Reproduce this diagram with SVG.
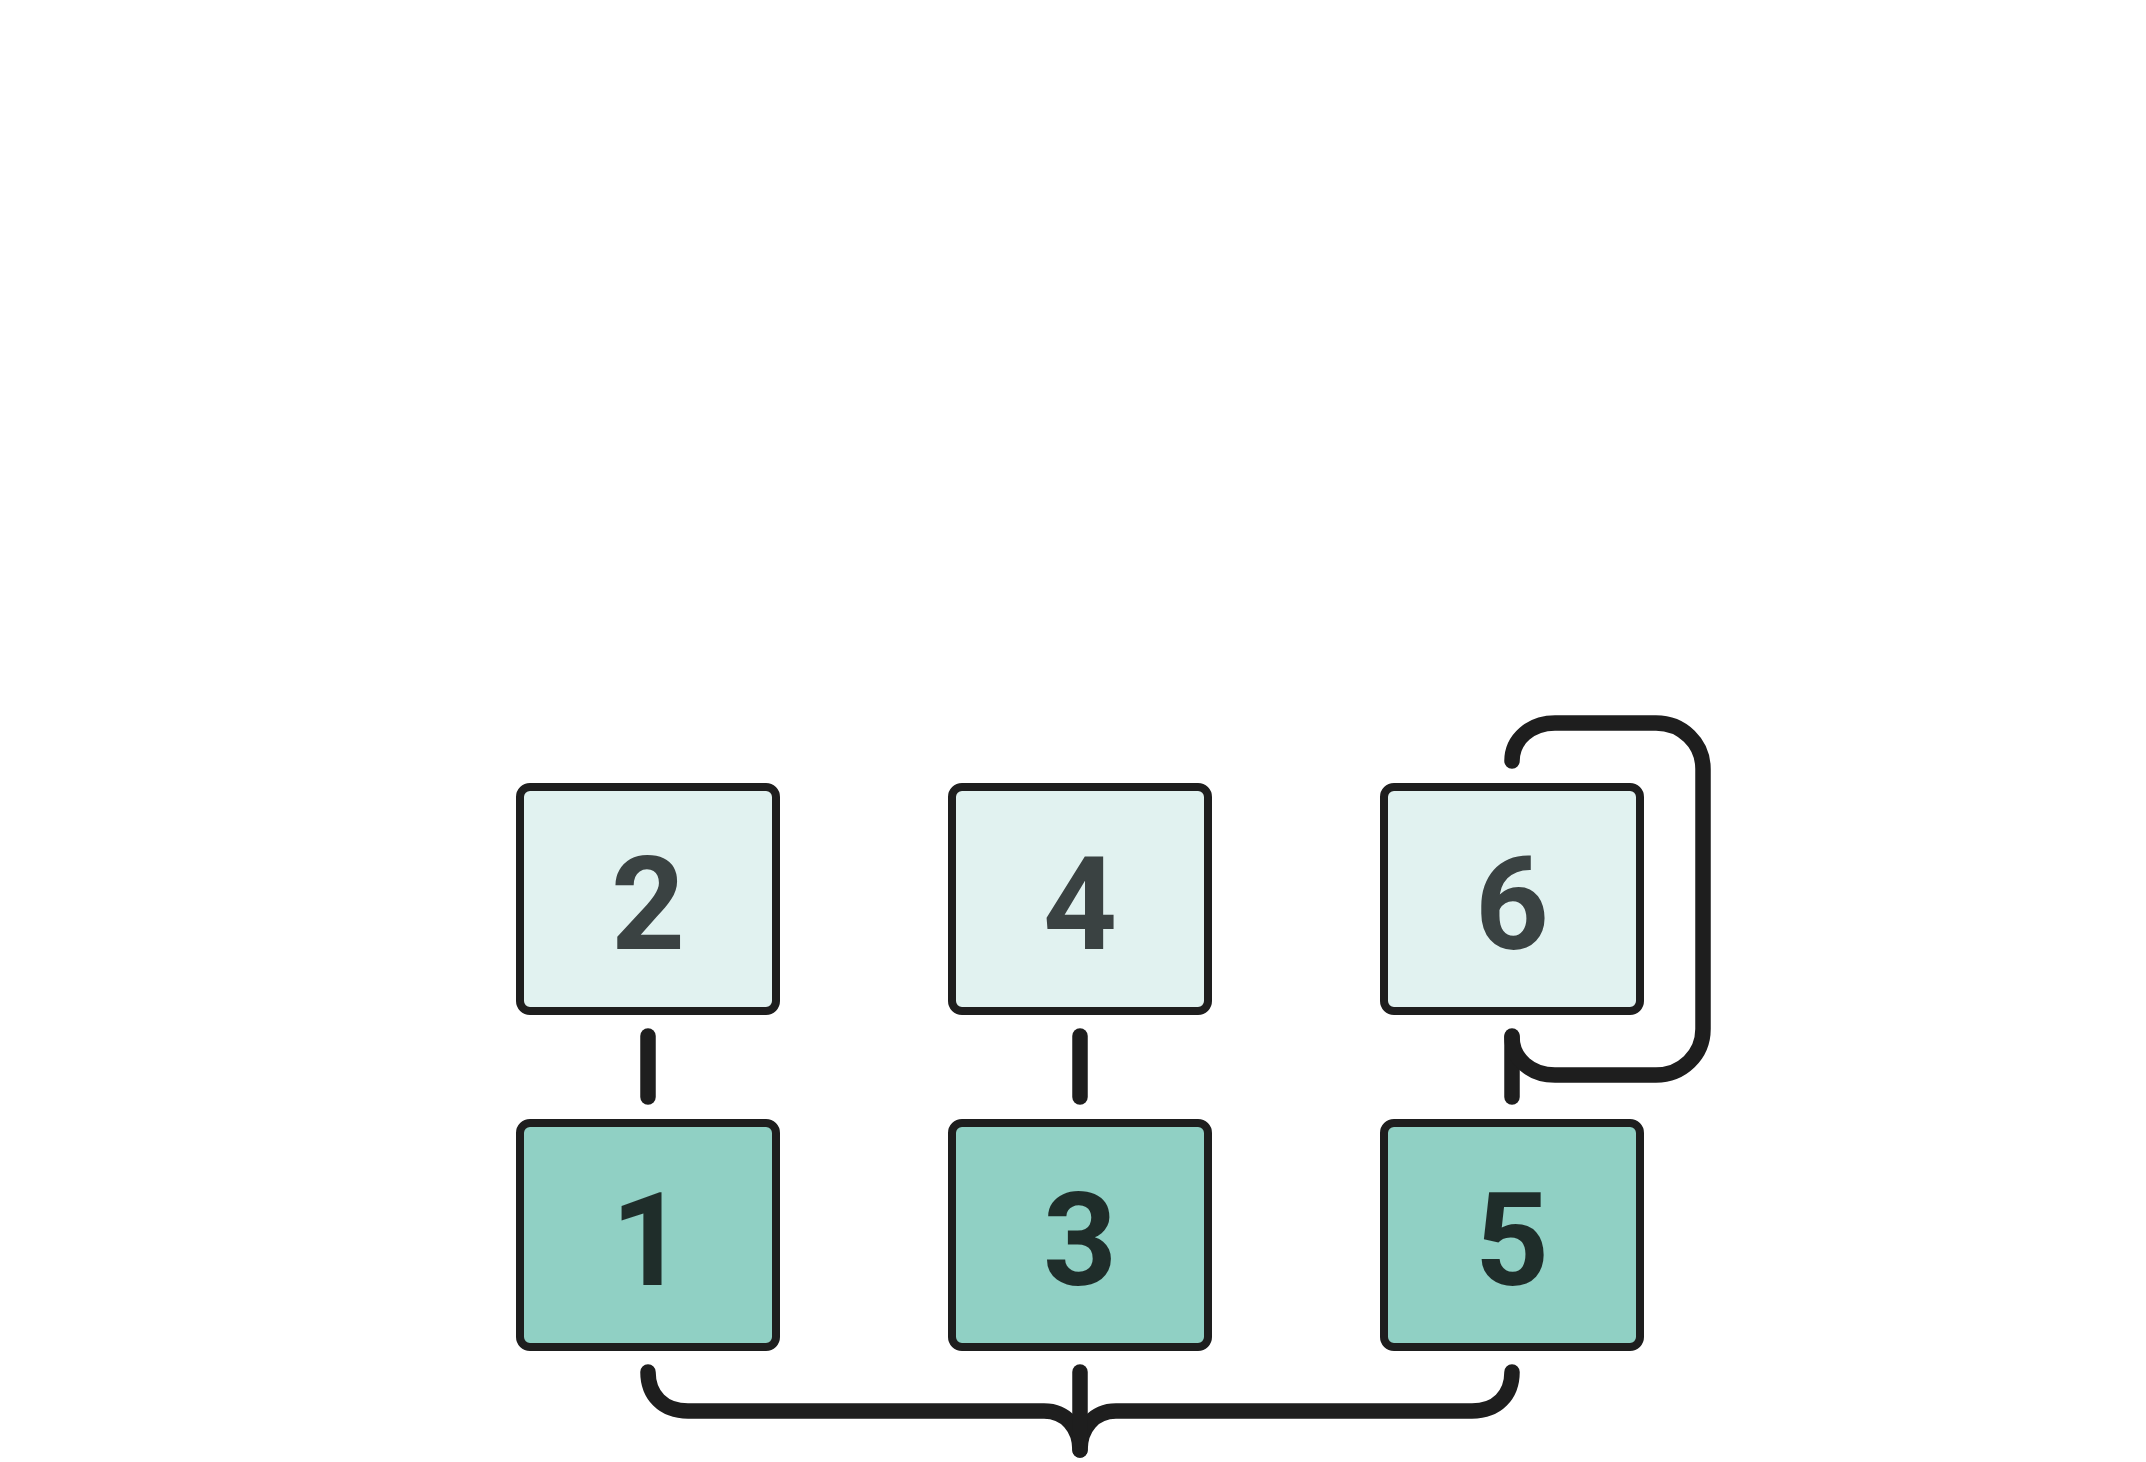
<svg xmlns="http://www.w3.org/2000/svg" width="2146" height="1462" viewBox="0 0 2146 1462">
<style>
.box{stroke:#1e1e1e;stroke-width:8}
.top{fill:#e1f2f0}
.bot{fill:#90d0c4}
.lbl{font-family:Roboto,"Liberation Sans",sans-serif;font-weight:700;font-size:129px;text-anchor:middle}
.lt{fill:#3a4242}
.lb{fill:#1f2d2a}
.c{fill:none;stroke:#1e1e1e;stroke-width:15.5;stroke-linecap:round;stroke-linejoin:round}
</style>
<rect width="2146" height="1462" fill="#ffffff"/>
<g id="connectors">
<path class="c" d="M648,1036 V1097"/>
<path class="c" d="M1080,1036 V1097"/>
<path class="c" d="M1512,1036 V1097"/>
<path class="c" d="M1512,761 C1512,739 1531,723 1555,723 H1656 C1682,723 1703,743 1703,769 V1029 C1703,1055 1682,1075 1656,1075 H1555 C1531,1075 1512,1059 1512,1037"/>
<path class="c" d="M648,1372 C648,1395 663,1411 688,1411 H1044 C1066,1411 1080,1428 1080,1450"/>
<path class="c" d="M1512,1372 C1512,1395 1497,1411 1472,1411 H1116 C1094,1411 1080,1428 1080,1450"/>
<path class="c" d="M1080,1372 V1440"/>
</g>
<g id="node2"><rect class="box top" x="520" y="787" width="256" height="224" rx="10"/><text class="lbl lt" x="648" y="949">2</text></g>
<g id="node4"><rect class="box top" x="952" y="787" width="256" height="224" rx="10"/><text class="lbl lt" x="1080" y="949">4</text></g>
<g id="node6"><rect class="box top" x="1384" y="787" width="256" height="224" rx="10"/><text class="lbl lt" x="1512" y="949">6</text></g>
<g id="node1"><rect class="box bot" x="520" y="1123" width="256" height="224" rx="10"/><text class="lbl lb" x="648" y="1285">1</text></g>
<g id="node3"><rect class="box bot" x="952" y="1123" width="256" height="224" rx="10"/><text class="lbl lb" x="1080" y="1285">3</text></g>
<g id="node5"><rect class="box bot" x="1384" y="1123" width="256" height="224" rx="10"/><text class="lbl lb" x="1512" y="1285">5</text></g>
</svg>
